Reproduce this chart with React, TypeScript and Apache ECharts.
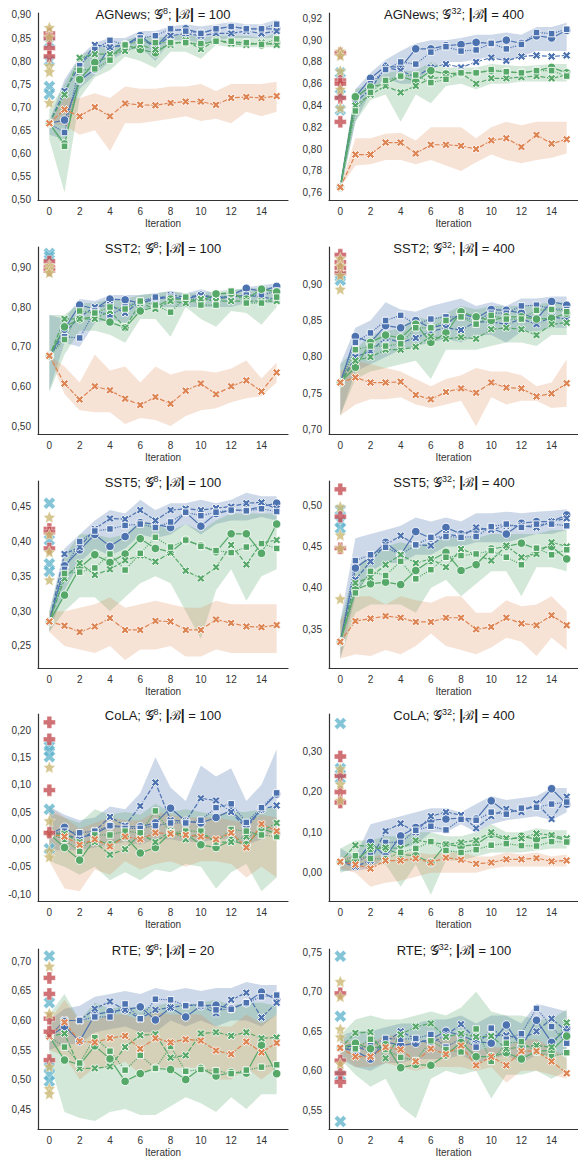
import React, { useEffect, useRef } from 'react';
import * as echarts from 'echarts';

const ITER = [0, 1, 2, 3, 4, 5, 6, 7, 8, 9, 10, 11, 12, 13, 14, 15];
const X_TICKS = [0, 2, 4, 6, 8, 10, 12, 14];

// ---------- AGNews G8 B100 ----------
const agn8Ticks = [0.5, 0.55, 0.6, 0.65, 0.7, 0.75, 0.8, 0.85, 0.9];
const agn8_bo = [0.665,0.672,0.758,0.782,0.83,0.835,0.855,0.83,0.865,0.87,0.86,0.87,0.875,0.87,0.87,0.87];
const agn8_bx = [0.665,0.735,0.79,0.835,0.83,0.835,0.85,0.83,0.855,0.86,0.855,0.86,0.86,0.865,0.86,0.865];
const agn8_bs = [0.665,0.645,0.79,0.825,0.845,0.835,0.85,0.855,0.87,0.865,0.86,0.87,0.875,0.87,0.87,0.88];
const agn8_go = [0.665,0.62,0.76,0.797,0.81,0.835,0.825,0.818,0.84,0.84,0.835,0.845,0.84,0.84,0.835,0.84];
const agn8_gx = [0.665,0.727,0.807,0.815,0.815,0.822,0.835,0.825,0.835,0.845,0.826,0.845,0.838,0.835,0.84,0.835];
const agn8_gs = [0.665,0.615,0.78,0.783,0.802,0.835,0.843,0.84,0.84,0.84,0.838,0.843,0.843,0.84,0.836,0.848];
const agn8_ox = [0.665,0.695,0.68,0.70,0.68,0.708,0.705,0.704,0.709,0.712,0.712,0.705,0.72,0.722,0.72,0.724];
const agn8_bLo = [0.64,0.63,0.74,0.77,0.80,0.82,0.83,0.80,0.845,0.845,0.84,0.845,0.85,0.85,0.85,0.85];
const agn8_bHi = [0.67,0.76,0.81,0.84,0.85,0.85,0.865,0.865,0.875,0.88,0.875,0.88,0.885,0.88,0.88,0.89];
const agn8_gLo = [0.63,0.515,0.72,0.765,0.78,0.81,0.80,0.785,0.82,0.82,0.805,0.835,0.83,0.83,0.83,0.83];
const agn8_gHi = [0.695,0.75,0.81,0.83,0.83,0.845,0.855,0.85,0.855,0.86,0.85,0.855,0.855,0.855,0.85,0.86];
const agn8_oLo = [0.665,0.66,0.64,0.65,0.605,0.665,0.665,0.67,0.675,0.68,0.67,0.675,0.665,0.69,0.68,0.69];
const agn8_oHi = [0.665,0.72,0.72,0.73,0.72,0.745,0.74,0.74,0.745,0.745,0.75,0.735,0.75,0.75,0.75,0.755];
const agn8_red = [0.86, 0.85, 0.828, 0.81];
const agn8_gold = [0.873, 0.853, 0.79, 0.777, 0.71];
const agn8_cyan = [0.84, 0.80, 0.745, 0.728];

// ---------- AGNews G32 B400 ----------
const agn32Ticks = [0.76, 0.78, 0.8, 0.82, 0.84, 0.86, 0.88, 0.9, 0.92];
const agn32_bo = [0.765,0.848,0.865,0.876,0.875,0.892,0.892,0.895,0.896,0.898,0.897,0.9,0.897,0.904,0.902,0.909];
const agn32_bx = [0.765,0.843,0.855,0.875,0.872,0.866,0.875,0.878,0.875,0.88,0.884,0.881,0.885,0.886,0.885,0.886];
const agn32_bs = [0.765,0.845,0.86,0.873,0.88,0.878,0.889,0.894,0.89,0.891,0.897,0.892,0.896,0.907,0.906,0.91];
const agn32_go = [0.765,0.848,0.857,0.86,0.867,0.862,0.872,0.869,0.87,0.87,0.872,0.871,0.87,0.872,0.875,0.87];
const agn32_gx = [0.765,0.84,0.85,0.858,0.852,0.858,0.865,0.866,0.87,0.86,0.865,0.865,0.866,0.867,0.865,0.868];
const agn32_gs = [0.765,0.835,0.852,0.863,0.867,0.868,0.861,0.864,0.87,0.87,0.873,0.871,0.87,0.872,0.872,0.867];
const agn32_ox = [0.765,0.795,0.795,0.806,0.806,0.796,0.804,0.804,0.803,0.8,0.808,0.81,0.802,0.813,0.805,0.809];
const agn32_bLo = [0.76,0.825,0.852,0.865,0.86,0.86,0.875,0.88,0.88,0.882,0.885,0.88,0.885,0.89,0.89,0.89];
const agn32_bHi = [0.77,0.855,0.87,0.882,0.89,0.897,0.9,0.9,0.902,0.905,0.905,0.907,0.905,0.912,0.912,0.916];
const agn32_gLo = [0.76,0.825,0.845,0.85,0.825,0.85,0.842,0.858,0.86,0.855,0.86,0.86,0.862,0.862,0.862,0.862];
const agn32_gHi = [0.77,0.855,0.86,0.87,0.872,0.872,0.88,0.875,0.875,0.875,0.878,0.877,0.876,0.877,0.878,0.878];
const agn32_oLo = [0.765,0.785,0.786,0.79,0.79,0.786,0.79,0.785,0.78,0.788,0.795,0.79,0.787,0.79,0.792,0.796];
const agn32_oHi = [0.765,0.81,0.81,0.814,0.815,0.808,0.82,0.82,0.82,0.81,0.82,0.825,0.822,0.825,0.825,0.825];
const agn32_red = [0.888, 0.863, 0.86, 0.847, 0.825];
const agn32_gold = [0.89, 0.886, 0.872, 0.855, 0.838];
const agn32_cyan = [0.87, 0.85, 0.836];

// ---------- SST2 G8 B100 ----------
const sst2_8Ticks = [0.5, 0.6, 0.7, 0.8, 0.9];
const sst2_8_bo = [0.677,0.745,0.805,0.795,0.82,0.818,0.81,0.82,0.825,0.82,0.83,0.82,0.83,0.847,0.84,0.852];
const sst2_8_bx = [0.677,0.735,0.775,0.8,0.805,0.785,0.815,0.82,0.83,0.825,0.83,0.825,0.825,0.83,0.825,0.82];
const sst2_8_bs = [0.677,0.725,0.722,0.79,0.78,0.8,0.815,0.825,0.825,0.82,0.82,0.82,0.825,0.83,0.83,0.84];
const sst2_8_go = [0.677,0.75,0.77,0.775,0.762,0.748,0.79,0.8,0.82,0.82,0.815,0.833,0.835,0.82,0.845,0.838];
const sst2_8_gx = [0.677,0.77,0.77,0.77,0.79,0.748,0.81,0.795,0.815,0.81,0.82,0.815,0.815,0.815,0.815,0.815];
const sst2_8_gs = [0.677,0.718,0.79,0.785,0.8,0.795,0.815,0.805,0.787,0.825,0.805,0.805,0.84,0.81,0.81,0.825];
const sst2_8_ox = [0.677,0.607,0.567,0.6,0.59,0.569,0.553,0.573,0.556,0.589,0.607,0.58,0.6,0.615,0.587,0.635];
const sst2_8_bLo = [0.59,0.71,0.70,0.76,0.77,0.76,0.79,0.8,0.8,0.8,0.8,0.8,0.8,0.81,0.81,0.81];
const sst2_8_bHi = [0.78,0.77,0.82,0.815,0.83,0.83,0.83,0.835,0.84,0.835,0.845,0.835,0.84,0.85,0.855,0.86];
const sst2_8_gLo = [0.585,0.68,0.74,0.74,0.73,0.71,0.77,0.77,0.725,0.8,0.77,0.75,0.79,0.785,0.755,0.8];
const sst2_8_gHi = [0.78,0.78,0.81,0.81,0.82,0.82,0.83,0.835,0.84,0.835,0.835,0.84,0.845,0.845,0.85,0.85];
const sst2_8_oLo = [0.677,0.58,0.54,0.535,0.535,0.505,0.52,0.515,0.5,0.525,0.54,0.545,0.56,0.57,0.575,0.61];
const sst2_8_oHi = [0.677,0.65,0.61,0.68,0.64,0.65,0.61,0.65,0.63,0.64,0.64,0.635,0.645,0.665,0.62,0.66];
const sst2_8_red = [0.915, 0.9, 0.892];
const sst2_8_gold = [0.905, 0.897, 0.887];
const sst2_8_cyan = [0.935, 0.928];

// ---------- SST2 G32 B400 ----------
const sst2_32Ticks = [0.7, 0.75, 0.8, 0.85, 0.9];
const sst2_32_bo = [0.765,0.828,0.82,0.843,0.84,0.85,0.84,0.845,0.86,0.853,0.865,0.864,0.86,0.852,0.876,0.871];
const sst2_32_bx = [0.765,0.8,0.808,0.826,0.82,0.826,0.835,0.84,0.837,0.848,0.848,0.845,0.852,0.845,0.855,0.852];
const sst2_32_bs = [0.765,0.82,0.833,0.85,0.857,0.845,0.852,0.855,0.855,0.85,0.86,0.86,0.87,0.871,0.866,0.865];
const sst2_32_go = [0.765,0.786,0.82,0.83,0.826,0.845,0.82,0.833,0.862,0.855,0.85,0.855,0.855,0.852,0.853,0.86];
const sst2_32_gx = [0.765,0.795,0.8,0.81,0.81,0.814,0.828,0.825,0.827,0.825,0.838,0.84,0.838,0.83,0.845,0.847];
const sst2_32_gs = [0.765,0.81,0.815,0.815,0.818,0.84,0.84,0.85,0.855,0.845,0.857,0.852,0.852,0.864,0.865,0.862];
const sst2_32_ox = [0.765,0.772,0.765,0.765,0.766,0.748,0.742,0.752,0.757,0.751,0.765,0.758,0.757,0.746,0.75,0.764];
const sst2_32_bLo = [0.72,0.78,0.79,0.8,0.81,0.815,0.82,0.825,0.82,0.83,0.83,0.82,0.835,0.835,0.84,0.84];
const sst2_32_bHi = [0.79,0.84,0.85,0.875,0.865,0.862,0.87,0.875,0.88,0.87,0.875,0.87,0.88,0.88,0.883,0.883];
const sst2_32_gLo = [0.72,0.77,0.78,0.785,0.79,0.795,0.77,0.81,0.81,0.81,0.815,0.82,0.82,0.815,0.83,0.83];
const sst2_32_gHi = [0.79,0.81,0.83,0.835,0.84,0.855,0.85,0.86,0.87,0.865,0.87,0.87,0.87,0.872,0.875,0.875];
const sst2_32_oLo = [0.72,0.735,0.742,0.742,0.745,0.735,0.73,0.735,0.74,0.705,0.745,0.735,0.74,0.74,0.73,0.732];
const sst2_32_oHi = [0.78,0.795,0.79,0.785,0.78,0.77,0.76,0.77,0.775,0.785,0.78,0.78,0.775,0.76,0.765,0.797];
const sst2_32_red = [0.94, 0.93, 0.922, 0.915];
const sst2_32_gold = [0.935, 0.925, 0.912, 0.893];
const sst2_32_cyan = [0.91, 0.905];

// ---------- SST5 G8 B100 ----------
const sst5_8Ticks = [0.25, 0.3, 0.35, 0.4, 0.45];
const sst5_8_bo = [0.285,0.365,0.388,0.41,0.393,0.407,0.427,0.425,0.42,0.442,0.422,0.44,0.445,0.445,0.45,0.455];
const sst5_8_bx = [0.285,0.382,0.392,0.418,0.433,0.432,0.445,0.43,0.445,0.447,0.445,0.448,0.45,0.455,0.456,0.447];
const sst5_8_bs = [0.285,0.36,0.4,0.415,0.418,0.423,0.425,0.42,0.428,0.442,0.437,0.442,0.445,0.444,0.447,0.443];
const sst5_8_go = [0.285,0.323,0.362,0.381,0.37,0.382,0.404,0.39,0.385,0.402,0.394,0.385,0.411,0.411,0.383,0.425];
const sst5_8_gx = [0.285,0.347,0.369,0.352,0.36,0.373,0.38,0.371,0.384,0.358,0.347,0.363,0.395,0.367,0.398,0.402];
const sst5_8_gs = [0.285,0.354,0.356,0.362,0.382,0.359,0.383,0.406,0.392,0.402,0.393,0.387,0.384,0.392,0.397,0.39];
const sst5_8_ox = [0.285,0.279,0.27,0.278,0.29,0.273,0.273,0.286,0.285,0.273,0.273,0.288,0.283,0.278,0.277,0.28];
const sst5_8_bLo = [0.27,0.33,0.37,0.39,0.38,0.39,0.41,0.405,0.41,0.425,0.41,0.425,0.43,0.43,0.435,0.43];
const sst5_8_bHi = [0.3,0.39,0.41,0.43,0.445,0.44,0.46,0.445,0.455,0.455,0.46,0.455,0.46,0.47,0.465,0.465];
const sst5_8_gLo = [0.27,0.3,0.32,0.32,0.3,0.32,0.34,0.35,0.34,0.3,0.26,0.33,0.36,0.315,0.35,0.36];
const sst5_8_gHi = [0.3,0.38,0.41,0.41,0.405,0.41,0.43,0.425,0.415,0.425,0.415,0.43,0.44,0.44,0.44,0.44];
const sst5_8_oLo = [0.27,0.25,0.245,0.24,0.25,0.23,0.245,0.245,0.25,0.235,0.235,0.245,0.24,0.24,0.24,0.24];
const sst5_8_oHi = [0.3,0.3,0.305,0.31,0.32,0.305,0.31,0.315,0.31,0.305,0.305,0.315,0.31,0.31,0.31,0.31];
const sst5_8_red = [0.418, 0.413, 0.39];
const sst5_8_gold = [0.435, 0.41, 0.385, 0.345];
const sst5_8_cyan = [0.455, 0.402, 0.368, 0.357];

// ---------- SST5 G32 B400 ----------
const sst5_32Ticks = [0.35, 0.4, 0.45, 0.5];
const sst5_32_bo = [0.335,0.424,0.437,0.455,0.44,0.468,0.46,0.473,0.465,0.47,0.472,0.465,0.478,0.48,0.48,0.488];
const sst5_32_bx = [0.335,0.41,0.432,0.452,0.463,0.452,0.451,0.465,0.462,0.473,0.47,0.475,0.475,0.473,0.48,0.484];
const sst5_32_bs = [0.335,0.433,0.44,0.449,0.44,0.452,0.461,0.462,0.461,0.462,0.474,0.477,0.473,0.477,0.477,0.475];
const sst5_32_go = [0.335,0.398,0.405,0.407,0.404,0.421,0.433,0.443,0.421,0.428,0.447,0.45,0.454,0.447,0.45,0.435];
const sst5_32_gx = [0.335,0.406,0.413,0.428,0.44,0.43,0.435,0.425,0.447,0.44,0.433,0.451,0.437,0.441,0.455,0.45];
const sst5_32_gs = [0.335,0.394,0.42,0.415,0.432,0.411,0.422,0.437,0.439,0.441,0.445,0.437,0.428,0.448,0.44,0.446];
const sst5_32_ox = [0.335,0.36,0.363,0.366,0.364,0.359,0.359,0.364,0.364,0.35,0.353,0.364,0.357,0.355,0.367,0.355];
const sst5_32_bLo = [0.315,0.39,0.42,0.43,0.43,0.44,0.44,0.45,0.45,0.455,0.455,0.455,0.46,0.465,0.465,0.47];
const sst5_32_bHi = [0.36,0.46,0.465,0.47,0.475,0.485,0.48,0.485,0.48,0.49,0.49,0.492,0.49,0.492,0.493,0.495];
const sst5_32_gLo = [0.315,0.37,0.38,0.38,0.38,0.37,0.4,0.41,0.39,0.405,0.42,0.42,0.39,0.425,0.425,0.42];
const sst5_32_gHi = [0.36,0.425,0.44,0.45,0.455,0.45,0.455,0.46,0.46,0.46,0.465,0.465,0.465,0.465,0.47,0.47];
const sst5_32_oLo = [0.315,0.32,0.318,0.325,0.32,0.33,0.345,0.33,0.325,0.32,0.328,0.34,0.335,0.318,0.34,0.325];
const sst5_32_oHi = [0.36,0.39,0.39,0.38,0.39,0.385,0.382,0.39,0.39,0.37,0.37,0.385,0.378,0.38,0.39,0.372];
const sst5_32_red = [0.519, 0.486, 0.448];
const sst5_32_gold = [0.498, 0.464, 0.448, 0.387];
const sst5_32_cyan = [0.494, 0.48, 0.472];

// ---------- CoLA G8 B100 ----------
const cola8Ticks = [-0.1, -0.05, 0, 0.05, 0.1, 0.15, 0.2];
const cola8_bo = [0.01,0.022,0.003,0.01,0.025,0.023,0.023,0.03,0.057,0.033,0.03,0.04,0.053,0.025,0.055,0.083];
const cola8_bx = [0.01,0.01,0.0,0.015,0.041,0.025,0.061,0.104,0.035,0.033,0.075,0.071,0.05,0.02,0.055,0.062];
const cola8_bs = [0.01,0.015,0.012,0.015,0.025,0.02,0.02,0.025,0.03,0.03,0.035,0.058,0.065,0.031,0.058,0.085];
const cola8_go = [0.01,-0.015,-0.038,0.0,-0.01,0.005,-0.025,-0.015,0.012,0.01,-0.01,-0.015,-0.002,-0.01,0.02,0.01];
const cola8_gx = [0.01,0.01,-0.005,-0.005,-0.028,-0.018,0.01,-0.005,0.015,0.0,0.012,-0.005,-0.005,0.005,0.015,0.03];
const cola8_gs = [0.01,0.0,-0.022,0.008,0.008,0.015,0.012,0.052,0.012,0.015,0.015,-0.005,0.018,0.015,0.008,0.005];
const cola8_ox = [0.01,0.005,-0.01,0.0,-0.013,0.005,0.0,0.012,0.01,0.008,0.005,0.0,0.012,-0.015,0.028,0.015];
const cola8_bLo = [-0.02,-0.02,-0.02,-0.015,-0.01,-0.005,-0.01,0.0,0.0,-0.005,-0.005,0.0,0.0,-0.01,0.0,0.02];
const cola8_bHi = [0.06,0.045,0.035,0.04,0.06,0.055,0.085,0.15,0.095,0.07,0.135,0.115,0.13,0.07,0.1,0.165];
const cola8_gLo = [-0.04,-0.05,-0.065,-0.05,-0.075,-0.06,-0.075,-0.055,-0.06,-0.045,-0.05,-0.09,-0.06,-0.045,-0.095,-0.07];
const cola8_gHi = [0.05,0.04,0.03,0.055,0.045,0.05,0.045,0.065,0.05,0.055,0.05,0.045,0.05,0.05,0.055,0.06];
const cola8_oLo = [-0.04,-0.09,-0.095,-0.055,-0.065,-0.04,-0.055,-0.045,-0.04,-0.05,-0.04,-0.04,-0.045,-0.07,-0.05,-0.07];
const cola8_oHi = [0.06,0.04,0.02,0.03,0.04,0.035,0.035,0.05,0.045,0.04,0.04,0.04,0.035,0.03,0.045,0.04];
const cola8_red = [0.214, 0.183, 0.09, 0.012];
const cola8_gold = [0.132, 0.034, -0.021, -0.032];
const cola8_cyan = [0.17, 0.162, 0.151, 0.055, -0.017];

// ---------- CoLA G32 B400 ----------
const cola32Ticks = [0, 0.1, 0.2, 0.3];
const cola32_bo = [0.027,0.02,0.075,0.04,0.091,0.112,0.13,0.133,0.135,0.133,0.178,0.15,0.155,0.165,0.208,0.17];
const cola32_bx = [0.027,0.015,0.03,0.103,0.122,0.1,0.14,0.15,0.143,0.11,0.14,0.158,0.15,0.172,0.133,0.188];
const cola32_bs = [0.027,0.025,0.045,0.075,0.075,0.105,0.115,0.106,0.132,0.13,0.15,0.145,0.16,0.162,0.17,0.175];
const cola32_go = [0.027,0.03,0.06,0.06,0.045,0.042,0.025,0.07,0.065,0.07,0.095,0.08,0.09,0.083,0.09,0.08];
const cola32_gx = [0.027,0.068,0.065,0.062,0.06,0.08,0.075,0.07,0.075,0.08,0.1,0.085,0.085,0.097,0.093,0.085];
const cola32_gs = [0.027,0.042,0.035,0.035,0.05,0.06,0.077,0.055,0.05,0.057,0.068,0.072,0.067,0.066,0.077,0.076];
const cola32_ox = [0.027,0.02,0.01,0.03,0.03,0.035,0.025,0.037,0.032,0.022,0.025,0.033,0.033,0.036,0.028,0.03];
const cola32_bLo = [0.005,0.005,0.01,0.04,0.06,0.07,0.1,0.1,0.12,0.1,0.12,0.13,0.135,0.14,0.13,0.15];
const cola32_bHi = [0.06,0.04,0.12,0.13,0.14,0.15,0.16,0.16,0.15,0.17,0.19,0.18,0.185,0.19,0.21,0.21];
const cola32_gLo = [0.0,0.01,0.02,0.02,-0.035,0.02,-0.055,0.03,0.03,0.04,0.05,0.05,0.05,0.055,0.06,0.06];
const cola32_gHi = [0.06,0.08,0.08,0.09,0.09,0.1,0.1,0.09,0.09,0.1,0.12,0.1,0.1,0.11,0.105,0.105];
const cola32_oLo = [0.01,0.0,-0.035,-0.025,-0.02,-0.01,0.0,0.0,0.0,0.0,0.01,0.015,0.015,0.015,0.015,0.015];
const cola32_oHi = [0.04,0.04,0.04,0.045,0.05,0.05,0.045,0.05,0.05,0.04,0.04,0.05,0.045,0.05,0.04,0.045];
const cola32_red = [0.288, 0.24, 0.2, 0.174];
const cola32_gold = [0.258, 0.22, 0.18];
const cola32_cyan = [0.37, 0.258, 0.234];

// ---------- RTE G8 B20 ----------
const rte8Ticks = [0.45, 0.5, 0.55, 0.6, 0.65, 0.7];
const rte8_bo = [0.573,0.59,0.565,0.61,0.615,0.618,0.623,0.601,0.622,0.606,0.625,0.626,0.62,0.63,0.648,0.635];
const rte8_bx = [0.573,0.6,0.6,0.62,0.632,0.618,0.603,0.618,0.622,0.626,0.625,0.612,0.635,0.647,0.605,0.63];
const rte8_bs = [0.573,0.6,0.6,0.606,0.606,0.628,0.603,0.636,0.635,0.625,0.628,0.618,0.619,0.63,0.64,0.643];
const rte8_go = [0.573,0.533,0.525,0.557,0.535,0.497,0.51,0.519,0.517,0.5,0.519,0.506,0.512,0.511,0.558,0.51];
const rte8_gx = [0.573,0.578,0.519,0.519,0.522,0.555,0.575,0.577,0.537,0.541,0.578,0.58,0.574,0.58,0.57,0.571];
const rte8_gs = [0.573,0.555,0.528,0.571,0.548,0.516,0.541,0.519,0.556,0.514,0.517,0.515,0.51,0.516,0.521,0.525];
const rte8_ox = [0.573,0.597,0.565,0.563,0.57,0.574,0.552,0.57,0.563,0.568,0.566,0.549,0.543,0.564,0.546,0.562];
const rte8_bLo = [0.55,0.56,0.56,0.58,0.585,0.59,0.58,0.58,0.6,0.59,0.6,0.59,0.6,0.6,0.59,0.61];
const rte8_bHi = [0.6,0.62,0.625,0.64,0.645,0.65,0.645,0.655,0.65,0.655,0.65,0.655,0.655,0.665,0.66,0.66];
const rte8_gLo = [0.53,0.445,0.435,0.43,0.445,0.45,0.44,0.44,0.455,0.47,0.46,0.445,0.47,0.45,0.475,0.475];
const rte8_gHi = [0.61,0.645,0.6,0.63,0.62,0.625,0.62,0.625,0.63,0.625,0.63,0.635,0.625,0.63,0.63,0.625];
const rte8_oLo = [0.55,0.54,0.5,0.52,0.52,0.53,0.51,0.52,0.52,0.52,0.52,0.5,0.5,0.52,0.5,0.52];
const rte8_oHi = [0.6,0.635,0.6,0.6,0.61,0.61,0.6,0.615,0.61,0.61,0.61,0.59,0.59,0.61,0.595,0.61];
const rte8_red = [0.672, 0.645, 0.603, 0.581, 0.533];
const rte8_gold = [0.692, 0.612, 0.522, 0.485, 0.476];
const rte8_cyan = [0.709, 0.63, 0.521, 0.508, 0.497];

// ---------- RTE G32 B100 ----------
const rte32Ticks = [0.55, 0.6, 0.65, 0.7, 0.75];
const rte32_bo = [0.629,0.625,0.615,0.637,0.632,0.635,0.64,0.65,0.645,0.637,0.635,0.658,0.63,0.664,0.636,0.653];
const rte32_bx = [0.629,0.632,0.623,0.636,0.65,0.64,0.635,0.645,0.659,0.64,0.645,0.645,0.64,0.65,0.666,0.65];
const rte32_bs = [0.629,0.628,0.632,0.641,0.64,0.641,0.646,0.63,0.641,0.63,0.654,0.64,0.647,0.679,0.656,0.635];
const rte32_go = [0.629,0.635,0.628,0.633,0.604,0.608,0.607,0.62,0.636,0.618,0.618,0.623,0.615,0.625,0.626,0.644];
const rte32_gx = [0.629,0.648,0.649,0.616,0.646,0.656,0.66,0.643,0.647,0.643,0.644,0.628,0.63,0.632,0.63,0.661];
const rte32_gs = [0.629,0.628,0.64,0.627,0.617,0.613,0.638,0.627,0.624,0.653,0.612,0.635,0.637,0.624,0.618,0.623];
const rte32_ox = [0.629,0.618,0.618,0.63,0.627,0.612,0.628,0.621,0.632,0.607,0.618,0.607,0.625,0.625,0.612,0.597];
const rte32_bLo = [0.615,0.605,0.6,0.61,0.61,0.615,0.615,0.615,0.62,0.61,0.615,0.62,0.61,0.62,0.62,0.62];
const rte32_bHi = [0.645,0.65,0.65,0.655,0.66,0.66,0.665,0.665,0.67,0.66,0.67,0.67,0.66,0.685,0.68,0.675];
const rte32_gLo = [0.615,0.595,0.58,0.59,0.555,0.54,0.59,0.6,0.595,0.6,0.565,0.595,0.595,0.6,0.59,0.6];
const rte32_gHi = [0.645,0.665,0.67,0.665,0.665,0.67,0.675,0.67,0.68,0.7,0.675,0.67,0.67,0.665,0.665,0.678];
const rte32_oLo = [0.62,0.605,0.605,0.61,0.605,0.6,0.605,0.605,0.605,0.6,0.605,0.585,0.6,0.6,0.595,0.59];
const rte32_oHi = [0.64,0.635,0.635,0.645,0.645,0.63,0.645,0.64,0.65,0.625,0.63,0.63,0.64,0.64,0.63,0.615];
const rte32_red = [0.698, 0.613, 0.597, 0.586];
const rte32_gold = [0.713, 0.694, 0.653, 0.643, 0.609];
const rte32_cyan = [0.745, 0.669, 0.594, 0.536];

// ---------- styling & layout ----------
const FONT = '"Liberation Sans", Arial, Helvetica, sans-serif';
const C_BLUE = '#4C72B0';
const C_GREEN = '#55A868';
const C_ORANGE = '#DD8452';
const C_RED = '#C44E52';
const C_GOLD = '#CCB974';
const C_CYAN = '#64B5CD';
const AXIS_COLOR = '#333333';

const SYM_X = 'path://M2.5,0L5,2.5L7.5,0L10,2.5L7.5,5L10,7.5L7.5,10L5,7.5L2.5,10L0,7.5L2.5,5L0,2.5Z';
const SYM_PLUS = 'path://M3,0H7V3H10V7H7V10H3V7H0V3H3Z';
const SYM_STAR = 'path://M5,0L6.4,3.1L9.755,3.455L7.25,5.7L7.939,9.045L5,7.35L2.061,9.045L2.75,5.7L0.245,3.455L3.6,3.1Z';

const COL_LEFT = [38, 329];
const GRID_W = 250;
const ROW_TOP = [13, 247, 481, 714, 949];
const ROW_H = [187, 187, 187, 187, 184];

type Panel = {
  name: string; g: string; b: string; col: number; row: number;
  yMin: number; yMax: number; ticks: number[];
  lines: number[][]; bands: number[][]; red: number[]; gold: number[]; cyan: number[];
};

const PANELS: Panel[] = [
  { name: 'AGNews', g: '8', b: '100', col: 0, row: 0, yMin: 0.4985, yMax: 0.9043, ticks: agn8Ticks,
    lines: [agn8_bo, agn8_bx, agn8_bs, agn8_go, agn8_gx, agn8_gs, agn8_ox],
    bands: [agn8_bLo, agn8_bHi, agn8_gLo, agn8_gHi, agn8_oLo, agn8_oHi], red: agn8_red, gold: agn8_gold, cyan: agn8_cyan },
  { name: 'AGNews', g: '32', b: '400', col: 1, row: 0, yMin: 0.7533, yMax: 0.9249, ticks: agn32Ticks,
    lines: [agn32_bo, agn32_bx, agn32_bs, agn32_go, agn32_gx, agn32_gs, agn32_ox],
    bands: [agn32_bLo, agn32_bHi, agn32_gLo, agn32_gHi, agn32_oLo, agn32_oHi], red: agn32_red, gold: agn32_gold, cyan: agn32_cyan },
  { name: 'SST2', g: '8', b: '100', col: 0, row: 1, yMin: 0.4799, yMax: 0.9513, ticks: sst2_8Ticks,
    lines: [sst2_8_bo, sst2_8_bx, sst2_8_bs, sst2_8_go, sst2_8_gx, sst2_8_gs, sst2_8_ox],
    bands: [sst2_8_bLo, sst2_8_bHi, sst2_8_gLo, sst2_8_gHi, sst2_8_oLo, sst2_8_oHi], red: sst2_8_red, gold: sst2_8_gold, cyan: sst2_8_cyan },
  { name: 'SST2', g: '32', b: '400', col: 1, row: 1, yMin: 0.6945, yMax: 0.9507, ticks: sst2_32Ticks,
    lines: [sst2_32_bo, sst2_32_bx, sst2_32_bs, sst2_32_go, sst2_32_gx, sst2_32_gs, sst2_32_ox],
    bands: [sst2_32_bLo, sst2_32_bHi, sst2_32_gLo, sst2_32_gHi, sst2_32_oLo, sst2_32_oHi], red: sst2_32_red, gold: sst2_32_gold, cyan: sst2_32_cyan },
  { name: 'SST5', g: '8', b: '100', col: 0, row: 2, yMin: 0.2184, yMax: 0.4868, ticks: sst5_8Ticks,
    lines: [sst5_8_bo, sst5_8_bx, sst5_8_bs, sst5_8_go, sst5_8_gx, sst5_8_gs, sst5_8_ox],
    bands: [sst5_8_bLo, sst5_8_bHi, sst5_8_gLo, sst5_8_gHi, sst5_8_oLo, sst5_8_oHi], red: sst5_8_red, gold: sst5_8_gold, cyan: sst5_8_cyan },
  { name: 'SST5', g: '32', b: '400', col: 1, row: 2, yMin: 0.3034, yMax: 0.529, ticks: sst5_32Ticks,
    lines: [sst5_32_bo, sst5_32_bx, sst5_32_bs, sst5_32_go, sst5_32_gx, sst5_32_gs, sst5_32_ox],
    bands: [sst5_32_bLo, sst5_32_bHi, sst5_32_gLo, sst5_32_gHi, sst5_32_oLo, sst5_32_oHi], red: sst5_32_red, gold: sst5_32_gold, cyan: sst5_32_cyan },
  { name: 'CoLA', g: '8', b: '100', col: 0, row: 3, yMin: -0.1128, yMax: 0.2293, ticks: cola8Ticks,
    lines: [cola8_bo, cola8_bx, cola8_bs, cola8_go, cola8_gx, cola8_gs, cola8_ox],
    bands: [cola8_bLo, cola8_bHi, cola8_gLo, cola8_gHi, cola8_oLo, cola8_oHi], red: cola8_red, gold: cola8_gold, cyan: cola8_cyan },
  { name: 'CoLA', g: '32', b: '400', col: 1, row: 3, yMin: -0.0703, yMax: 0.3934, ticks: cola32Ticks,
    lines: [cola32_bo, cola32_bx, cola32_bs, cola32_go, cola32_gx, cola32_gs, cola32_ox],
    bands: [cola32_bLo, cola32_bHi, cola32_gLo, cola32_gHi, cola32_oLo, cola32_oHi], red: cola32_red, gold: cola32_gold, cyan: cola32_cyan },
  { name: 'RTE', g: '8', b: '20', col: 0, row: 4, yMin: 0.4163, yMax: 0.721, ticks: rte8Ticks,
    lines: [rte8_bo, rte8_bx, rte8_bs, rte8_go, rte8_gx, rte8_gs, rte8_ox],
    bands: [rte8_bLo, rte8_bHi, rte8_gLo, rte8_gHi, rte8_oLo, rte8_oHi], red: rte8_red, gold: rte8_gold, cyan: rte8_cyan },
  { name: 'RTE', g: '32', b: '100', col: 1, row: 4, yMin: 0.5265, yMax: 0.7541, ticks: rte32Ticks,
    lines: [rte32_bo, rte32_bx, rte32_bs, rte32_go, rte32_gx, rte32_gs, rte32_ox],
    bands: [rte32_bLo, rte32_bHi, rte32_gLo, rte32_gHi, rte32_oLo, rte32_oHi], red: rte32_red, gold: rte32_gold, cyan: rte32_cyan },
];

const LINE_STYLES = [
  { color: C_BLUE, symbol: 'circle', size: 8.5, dash: 'solid' as any },
  { color: C_BLUE, symbol: SYM_X, size: 8, dash: [4.8, 1.8] },
  { color: C_BLUE, symbol: 'rect', size: 6.5, dash: [1.2, 1.2] },
  { color: C_GREEN, symbol: 'circle', size: 8.5, dash: 'solid' as any },
  { color: C_GREEN, symbol: SYM_X, size: 8, dash: [4.8, 1.8] },
  { color: C_GREEN, symbol: 'rect', size: 6.5, dash: [1.2, 1.2] },
  { color: C_ORANGE, symbol: SYM_X, size: 8, dash: [4.8, 1.8] },
];
const BAND_COLORS = [C_BLUE, C_GREEN, C_ORANGE];
const BAND_OPACITY = [0.28, 0.26, 0.24];

const fmtY = (v: number) => (v < -1e-9 ? '-' : '') + Math.abs(v).toFixed(2).replace('.', ',');

function bandSeries(gi: number, lo: number[], hi: number[], color: string, opacity: number) {
  return {
    type: 'custom',
    xAxisIndex: gi,
    yAxisIndex: gi,
    silent: true,
    clip: true,
    z: 1,
    data: ITER.map((x, k) => [x, lo[k], hi[k]]),
    encode: { x: 0, y: [1, 2] },
    renderItem: (params: any, api: any) => {
      if (params.dataIndex !== 0) return null;
      const top = ITER.map((x, k) => api.coord([x, hi[k]]));
      const bot = ITER.map((x, k) => api.coord([x, lo[k]])).reverse();
      return {
        type: 'polygon',
        shape: { points: top.concat(bot) },
        style: { fill: color, opacity },
      };
    },
  };
}

function buildOption() {
  const grids: any[] = [];
  const xAxes: any[] = [];
  const yAxes: any[] = [];
  const series: any[] = [];
  const graphics: any[] = [];

  PANELS.forEach((p, gi) => {
    const left = COL_LEFT[p.col];
    const top = ROW_TOP[p.row];
    const h = ROW_H[p.row];
    grids.push({ left, top, width: GRID_W, height: h, containLabel: false });
    xAxes.push({
      type: 'value', gridIndex: gi, min: -0.75, max: 15.75,
      axisLine: { show: true, onZero: false, lineStyle: { color: AXIS_COLOR, width: 1.2 } },
      axisTick: { show: false },
      splitLine: { show: false },
      axisLabel: { customValues: X_TICKS, formatter: (v: number) => String(v), color: AXIS_COLOR, fontSize: 10, fontFamily: FONT, margin: 6 },
      name: 'Iteration', nameLocation: 'middle', nameGap: 18,
      nameTextStyle: { color: AXIS_COLOR, fontSize: 10, fontFamily: FONT },
    });
    yAxes.push({
      type: 'value', gridIndex: gi, min: p.yMin, max: p.yMax,
      axisLine: { show: true, onZero: false, lineStyle: { color: AXIS_COLOR, width: 1.2 } },
      axisTick: { show: false },
      splitLine: { show: false },
      axisLabel: { customValues: p.ticks, formatter: fmtY, color: AXIS_COLOR, fontSize: 10, fontFamily: FONT, margin: 7 },
    });

    for (let c = 0; c < 3; c++) {
      series.push(bandSeries(gi, p.bands[c * 2], p.bands[c * 2 + 1], BAND_COLORS[c], BAND_OPACITY[c]));
    }
    p.lines.forEach((arr, li) => {
      const st = LINE_STYLES[li];
      series.push({
        type: 'line', xAxisIndex: gi, yAxisIndex: gi, z: 3,
        data: ITER.map((x, k) => [x, arr[k]]),
        symbol: st.symbol, symbolSize: st.size, showSymbol: true,
        lineStyle: { color: st.color, width: 1.2, type: st.dash },
        itemStyle: { color: st.color, borderColor: '#ffffff', borderWidth: 0.9 },
      });
    });
    const scatters: [number[], string, string, number][] = [
      [p.cyan, C_CYAN, SYM_X, 12],
      [p.red, C_RED, SYM_PLUS, 12],
      [p.gold, C_GOLD, SYM_STAR, 12],
    ];
    scatters.forEach(([vals, color, sym, size]) => {
      series.push({
        type: 'scatter', xAxisIndex: gi, yAxisIndex: gi, z: 4,
        data: vals.map((v) => [0, v]),
        symbol: sym, symbolSize: size,
        itemStyle: { color, borderColor: '#ffffff', borderWidth: 0.5 },
      });
    });

    graphics.push({
      type: 'text', silent: true,
      x: left + GRID_W / 2, y: top + 1,
      style: {
        text: `${p.name}; {g|𝒢}{s|${p.g}}; {bar||}{cb|ℬ}{bar||} = ${p.b}`,
        align: 'center', verticalAlign: 'middle',
        fontSize: 13, fontFamily: FONT, fill: '#1a1a1a',
        rich: {
          g: { fontSize: 13, fontFamily: FONT, fill: '#1a1a1a' },
          s: { fontSize: 9, fontFamily: FONT, fill: '#1a1a1a', verticalAlign: 'top', lineHeight: 15 },
          bar: { fontSize: 14, fontWeight: 'bold', fontFamily: FONT, fill: '#1a1a1a' },
          cb: { fontSize: 13, fontFamily: FONT, fill: '#1a1a1a' },
        },
      },
    });
  });

  return {
    animation: false,
    backgroundColor: '#ffffff',
    grid: grids,
    xAxis: xAxes,
    yAxis: yAxes,
    series,
    graphic: graphics,
  };
}

export default function App() {
  const ref = useRef<HTMLDivElement>(null);
  useEffect(() => {
    if (!ref.current) return;
    const chart = echarts.init(ref.current, null, { renderer: 'svg' });
    chart.setOption(buildOption() as any);
    return () => chart.dispose();
  }, []);
  return (
    <div
      ref={ref}
      style={{ position: 'absolute', left: 0, top: 0, width: 578, height: 1158, background: '#ffffff' }}
    />
  );
}
